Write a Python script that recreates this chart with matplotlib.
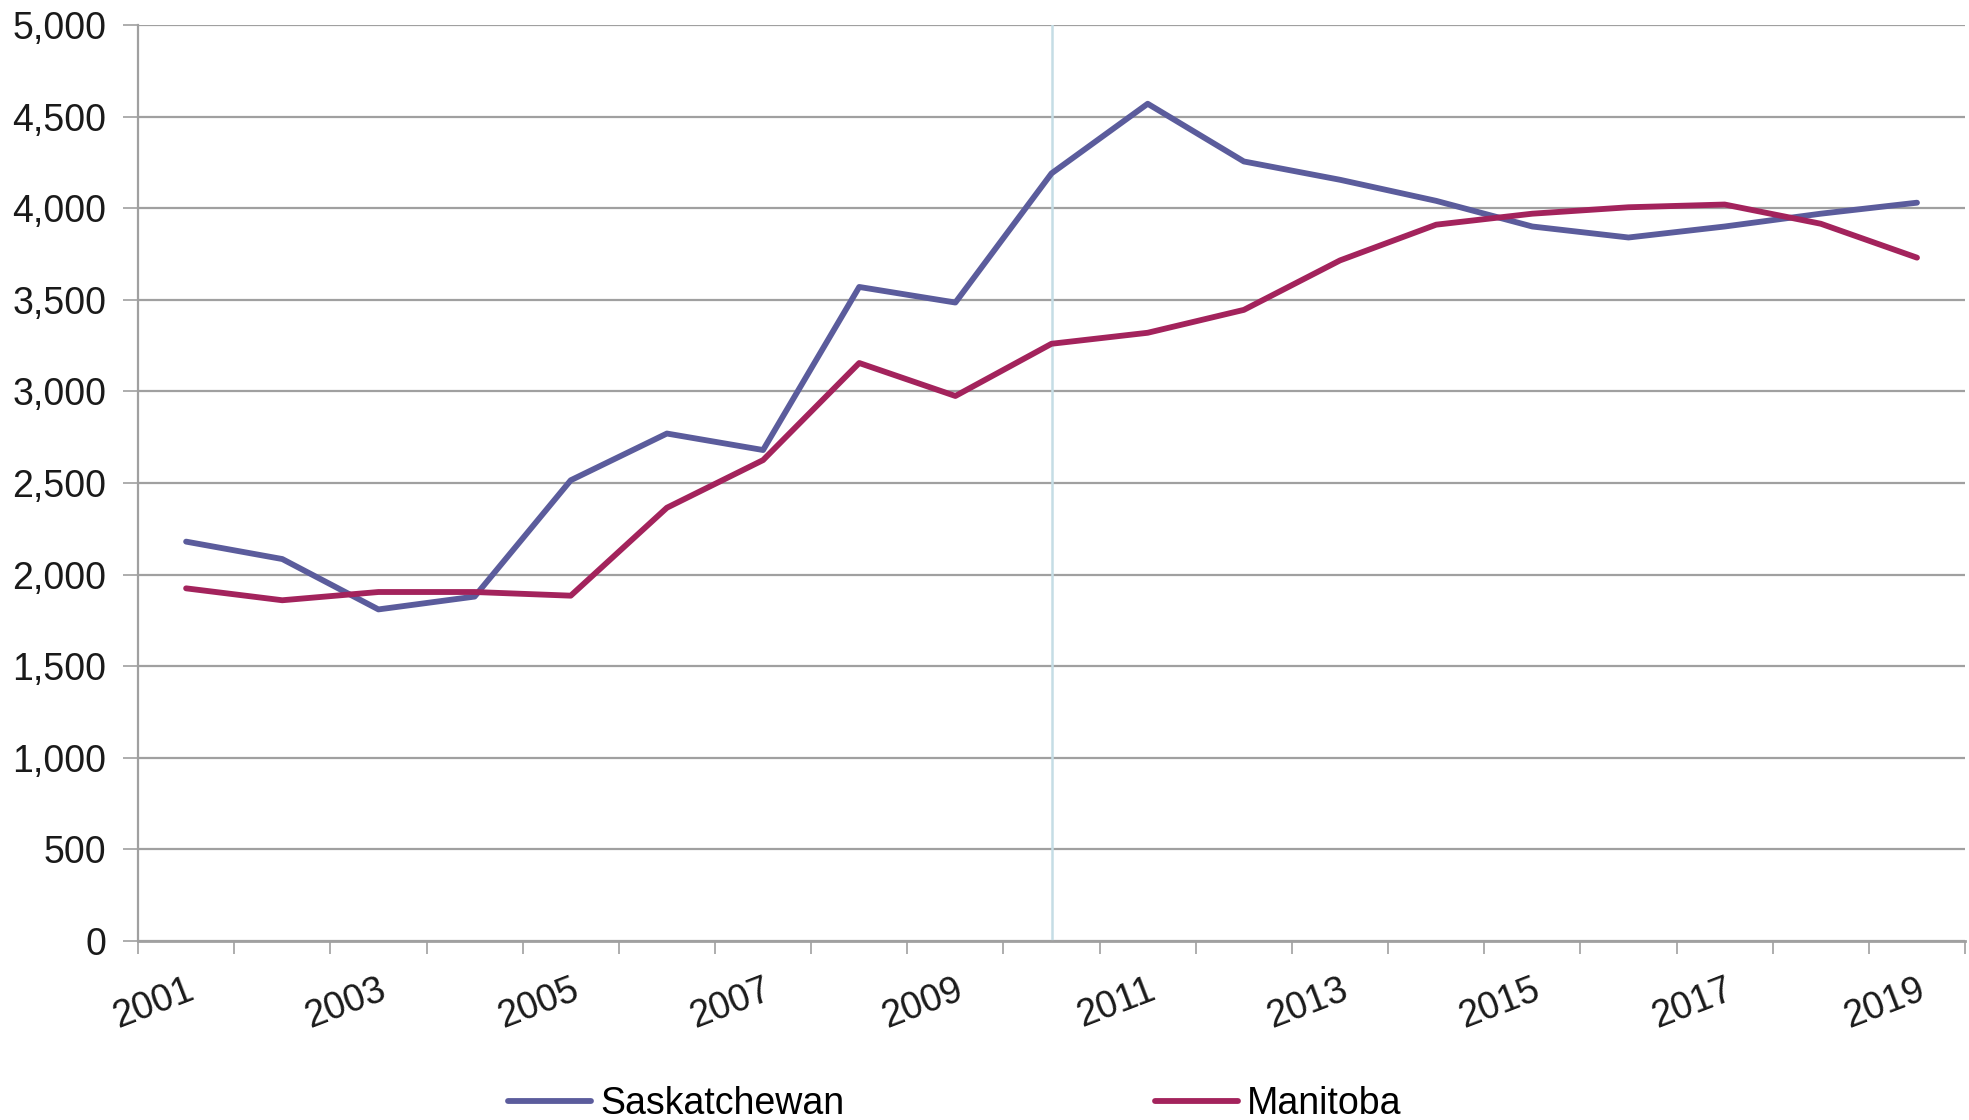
import matplotlib.pyplot as plt
from matplotlib.ticker import FuncFormatter, FixedLocator

plt.rcParams["font.family"] = ["Liberation Sans", "DejaVu Sans"]

# Values
years = [str(y) for y in range(2001, 2020)]
saskatchewan = [2180, 2085, 1810, 1880, 2515, 2770, 2680, 3570, 3485, 4190,
                4570, 4255, 4155, 4040, 3900, 3840, 3900, 3970, 4030]
manitoba = [1925, 1860, 1905, 1905, 1885, 2365, 2625, 3155, 2975, 3260,
            3320, 3445, 3715, 3910, 3970, 4005, 4020, 3915, 3730]
marker_year = "2010"

GRID = "#a0a0a0"
SASK_COLOR = "#5b5c9c"
MANI_COLOR = "#a3235c"
FS = 27

fig = plt.figure(figsize=(19.69, 11.2), dpi=100)
ax = fig.add_axes([0.0701, 0.1598, 0.9279, 0.8179])

x = list(range(len(years)))

# vertical reference line
ax.axvline(years.index(marker_year), color="#c5dde5", linewidth=1.8, zorder=1)

ax.plot(x, saskatchewan, color=SASK_COLOR, linewidth=4.2, label="Saskatchewan",
        solid_joinstyle="round", solid_capstyle="round", zorder=3)
ax.plot(x, manitoba, color=MANI_COLOR, linewidth=4.2, label="Manitoba",
        solid_joinstyle="round", solid_capstyle="round", zorder=3)

ax.set_xlim(-0.5, len(years) - 0.5)
ax.set_ylim(0, 5000)

# y axis
ax.set_yticks(range(0, 5001, 500))
ax.yaxis.set_major_formatter(FuncFormatter(lambda v, p: f"{v:,.0f}"))
ax.yaxis.grid(True, color=GRID, linewidth=1.6)
ax.tick_params(axis="y", length=11, width=1.2, color=GRID, pad=12,
               labelsize=FS, labelcolor="#1a1a1a")

# x axis: ticks on category boundaries, labels on every other category
ax.xaxis.set_major_locator(FixedLocator([i - 0.5 for i in range(len(years) + 1)]))
ax.xaxis.set_major_formatter(FuncFormatter(lambda v, p: ""))
ax.tick_params(axis="x", which="major", length=9, width=1.2, color=GRID)
label_pos = [i for i in x if i % 2 == 0]
ax.xaxis.set_minor_locator(FixedLocator(label_pos))
ax.set_xticklabels([years[i] for i in label_pos], minor=True)
ax.tick_params(axis="x", which="minor", length=0, pad=22, labelsize=FS,
               labelcolor="#1a1a1a")
for lbl in ax.get_xticklabels(minor=True):
    lbl.set_rotation(21)
    lbl.set_ha("right")
    lbl.set_va("top")
    lbl.set_rotation_mode("anchor")

for side in ["top", "right"]:
    ax.spines[side].set_visible(False)
ax.spines["left"].set_color(GRID)
ax.spines["left"].set_linewidth(1.6)
ax.spines["bottom"].set_color(GRID)
ax.spines["bottom"].set_linewidth(2.0)
ax.set_axisbelow(True)

fig.legend(loc="center", bbox_to_anchor=(0.485, 0.014), ncol=2, frameon=False,
           fontsize=FS, handlelength=2.2, handletextpad=0.25, columnspacing=8.3,
           borderpad=0)

fig.savefig("out.png", dpi=100)
